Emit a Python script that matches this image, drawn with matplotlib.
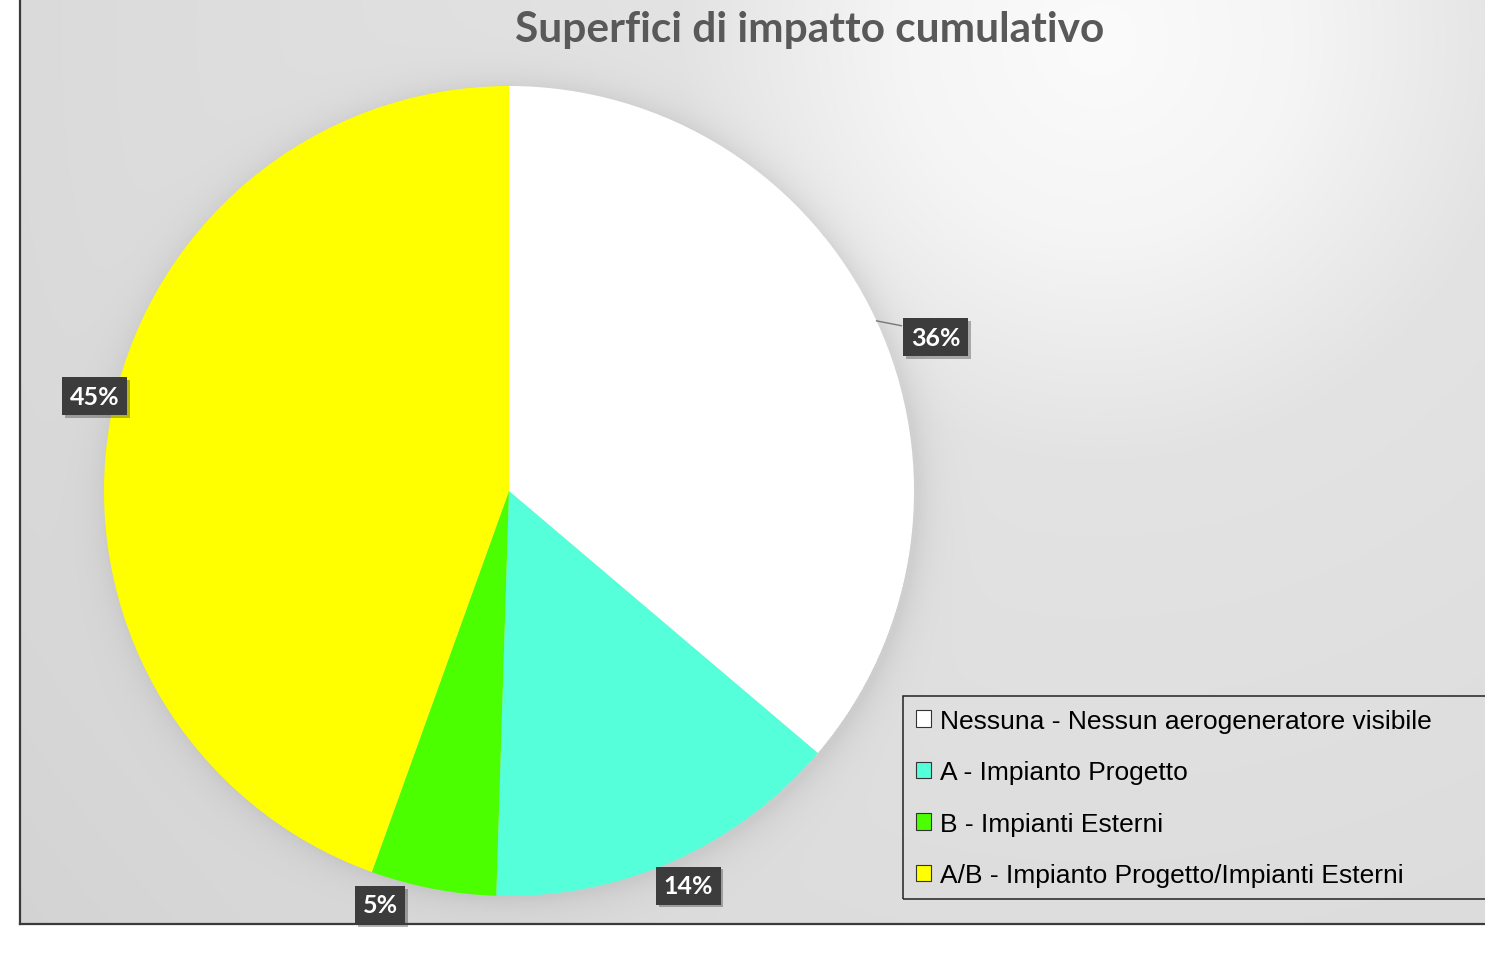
import numpy as np
import matplotlib
matplotlib.use("Agg")
import matplotlib.pyplot as plt
from matplotlib.patches import Patch, Rectangle
import matplotlib.patheffects as pe

# data
categories = ["Nessuna - Nessun aerogeneratore visibile",
              "A - Impianto Progetto",
              "B - Impianti Esterni",
              "A/B - Impianto Progetto/Impianti Esterni"]
values = [36.2, 14.3, 5.0, 44.5]
pct_labels = ["36%", "14%", "5%", "45%"]
colors = ["#ffffff", "#55ffd9", "#4cff00", "#ffff00"]

W, H = 1485, 954
fig = plt.figure(figsize=(W / 100, H / 100), dpi=100, facecolor="white")

# chart area background (radial grey gradient + soft pie shadow)
x0, ybot = 20, 925
cx, cy, R = 509, 492, 405
bg = fig.add_axes([x0 / W, (H - ybot) / H, 1 - x0 / W, ybot / H])
xx, yy = np.meshgrid(np.arange(x0, W), np.arange(0, ybot))
d = np.hypot(xx - 1100, yy - 40)
shade = np.interp(d, [0, 200, 420, 1000, 1450], [0.985, 0.96, 0.89, 0.862, 0.825])
dp = np.hypot(xx - cx - 4, yy - cy - 2) - R
shade = shade - 0.07 * np.exp(-np.clip(dp, 0, None) / 16) * (dp > -5)
bg.imshow(np.dstack([shade] * 3), extent=(x0, W, ybot, 0), aspect="auto",
          interpolation="bilinear")
bg.set_xlim(x0, W)
bg.set_ylim(ybot, 0)
bg.axis("off")

# frame lines (left and bottom)
fig.add_artist(plt.Line2D([x0 / W, x0 / W], [(H - ybot) / H, 1], color="#3a3a3a", lw=1.6))
fig.add_artist(plt.Line2D([x0 / W, 1], [(H - ybot) / H, (H - ybot) / H], color="#3a3a3a", lw=1.6))

# pie
ax = fig.add_axes([(cx - R) / W, (H - cy - R) / H, 2 * R / W, 2 * R / H])
wedges, _ = ax.pie(values, colors=colors, startangle=90, counterclock=False,
                   radius=1, wedgeprops=dict(linewidth=0))
ax.set_xlim(-1, 1)
ax.set_ylim(-1, 1)
ax.set_aspect("equal")
ax.axis("off")

# label layout: (radius, angle shift in degrees)
label_pos = [(1.12, -5), (1.07, 0.5), (1.07, -6.5), (1.05, -3)]
for w, lab, (r, shift) in zip(wedges, pct_labels, label_pos):
    mid = np.deg2rad((w.theta1 + w.theta2) / 2 + shift)
    tx, ty = r * np.cos(mid), r * np.sin(mid)
    t = ax.text(tx, ty, lab, ha="center", va="center", color="white",
                fontsize=18, fontweight="bold", family=["Lato", "DejaVu Sans"],
                bbox=dict(boxstyle="square,pad=0.3", fc="#3c3c3c", ec="none"),
                zorder=5, clip_on=False)
    t.get_bbox_patch().set_path_effects([pe.SimplePatchShadow(offset=(2, -2), alpha=0.3),
                                         pe.Normal()])

# leader line for the first label
w = wedges[0]
m = np.deg2rad((w.theta1 + w.theta2) / 2)
ax.plot([1.0 * np.cos(m), 0.985 * np.cos(m) + 0.075], [1.0 * np.sin(m), np.sin(m) - 0.012],
        color="#777777", lw=1, clip_on=False, zorder=4)

# title
fig.text(810 / W, 1 - 30 / H, "Superfici di impatto cumulativo", ha="center", va="center",
         fontsize=30.5, fontweight="bold", color="#595959", family=["Lato", "DejaVu Sans"])

# legend
fig.add_artist(Rectangle((903 / W, (H - 900) / H), (600) / W, 203 / H,
                         transform=fig.transFigure, fill=False, ec="#222222", lw=1.1))
handles = [Patch(fc=c, ec="#333333", lw=0.8) for c in colors]
fig.legend(handles, categories, loc="upper left", bbox_to_anchor=(908 / W, 1 - 702 / H),
           frameon=False, prop=dict(family="Liberation Sans", size=19),
           handlelength=0.57, handleheight=0.57, handletextpad=0.33,
           labelspacing=1.04, borderaxespad=0, borderpad=0.3)

fig.savefig("out.png", dpi=100, facecolor="white")
